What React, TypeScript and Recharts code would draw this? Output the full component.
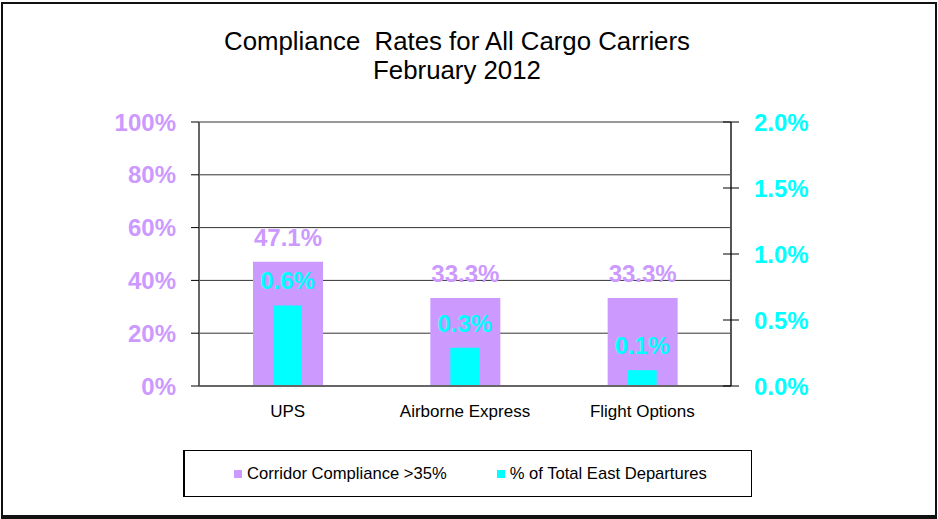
import { BarChart, Bar, XAxis, YAxis, CartesianGrid, LabelList } from "recharts";

const carriers = ["UPS", "Airborne Express", "Flight Options"];
const corridorCompliance = [47.1, 33.3, 33.3];
const eastDepartureShare = [0.61, 0.29, 0.12];

const complianceTicks = [0, 20, 40, 60, 80, 100];
const shareTicks = [0, 0.5, 1, 1.5, 2];
const categoryEdges = [0, 1, 2, 3];

const seriesNames = ["Corridor Compliance >35%", "% of Total East Departures"];

const PURPLE = "#cc99ff";
const CYAN = "#00ffff";
const FONT = "'Liberation Sans', Arial, sans-serif";

const rows = carriers.map((carrier, i) => ({
  carrier,
  compliance: corridorCompliance[i],
  share: eastDepartureShare[i],
}));

const boldNum = { fontFamily: FONT, fontSize: 24, fontWeight: 700 };

export default function App() {
  return (
    <div
      style={{
        position: "absolute",
        left: 0,
        top: 0,
        width: 938,
        height: 519,
        background: "#fff",
        fontFamily: FONT,
      }}
    >
      <div
        style={{
          position: "absolute",
          left: 1,
          top: 2,
          width: 936,
          height: 517,
          boxSizing: "border-box",
          border: "2px solid #111",
          borderBottomWidth: 4,
        }}
      />
      <div
        style={{
          position: "absolute",
          left: 0,
          top: 27,
          width: 914,
          textAlign: "center",
          fontSize: 25.8,
          lineHeight: "29px",
          color: "#000",
          whiteSpace: "pre",
        }}
      >
        {"Compliance  Rates for All Cargo Carriers\nFebruary 2012"}
      </div>

      <div style={{ position: "absolute", left: 0, top: 0 }}>
        <BarChart
          width={938}
          height={519}
          data={rows}
          margin={{ top: 122, right: 0, bottom: 103, left: 0 }}
        >
          <CartesianGrid
            xAxisId="cat"
            yAxisId="pct"
            vertical={false}
            stroke="#333"
          />
          <XAxis
            xAxisId="edges"
            type="number"
            domain={[0, 3]}
            allowDataOverflow
            ticks={categoryEdges}
            height={0}
            tickSize={6}
            tick={false}
            axisLine={false}
            tickLine={{ stroke: "#666", strokeWidth: 2 }}
          />
          <XAxis
            xAxisId="cat"
            dataKey="carrier"
            height={30}
            tickSize={6}
            tickMargin={13}
            tickLine={false}
            axisLine={{ stroke: "#666", strokeWidth: 2 }}
            tick={{ fill: "#000", fontSize: 17, fontFamily: FONT }}
            interval={0}
          />
          <XAxis
            xAxisId="inner"
            dataKey="carrier"
            orientation="top"
            height={0}
            hide
          />
          <YAxis
            yAxisId="pct"
            width={199}
            domain={[0, 100]}
            ticks={complianceTicks}
            tickFormatter={(v) => `${v}%`}
            tickSize={8}
            tickMargin={15}
            axisLine={{ stroke: "#666", strokeWidth: 2 }}
            tickLine={{ stroke: "#000" }}
            tick={{ ...boldNum, fill: PURPLE }}
          />
          <YAxis
            yAxisId="share"
            orientation="right"
            width={207}
            domain={[0, 2]}
            ticks={shareTicks}
            tickFormatter={(v) => `${Number(v).toFixed(1)}%`}
            tickSize={16}
            tickMargin={7}
            axisLine={{ stroke: "#555", strokeWidth: 2 }}
            tickLine={{ stroke: "#000", transform: "translate(-8,0)" }}
            tick={{ ...boldNum, fill: CYAN }}
          />
          <Bar
            xAxisId="cat"
            yAxisId="pct"
            dataKey="compliance"
            name={seriesNames[0]}
            fill={PURPLE}
            barSize={70}
            isAnimationActive={false}
          >
            <LabelList
              dataKey="compliance"
              position="top"
              offset={16}
              formatter={(v) => `${Number(v).toFixed(1)}%`}
              fill={PURPLE}
              {...boldNum}
            />
          </Bar>
          <Bar
            xAxisId="inner"
            yAxisId="share"
            dataKey="share"
            name={seriesNames[1]}
            fill={CYAN}
            barSize={29}
            isAnimationActive={false}
          >
            <LabelList
              dataKey="share"
              position="top"
              offset={16}
              formatter={(v) => `${Number(v).toFixed(1)}%`}
              fill={CYAN}
              {...boldNum}
            />
          </Bar>
        </BarChart>
      </div>

      <div
        style={{
          position: "absolute",
          left: 183,
          top: 450,
          width: 569,
          height: 47,
          boxSizing: "border-box",
          border: "1px solid #000",
          borderLeftWidth: 2,
          display: "flex",
          alignItems: "center",
          paddingLeft: 49,
          fontSize: 16.6,
          color: "#000",
        }}
      >
        {seriesNames.map((name, i) => (
          <div
            key={name}
            style={{
              display: "flex",
              alignItems: "center",
              marginRight: i === 0 ? 50 : 0,
            }}
          >
            <span
              style={{
                width: 8,
                height: 8,
                background: i === 0 ? PURPLE : CYAN,
                marginRight: 5,
              }}
            />
            <span>{name}</span>
          </div>
        ))}
      </div>
    </div>
  );
}
